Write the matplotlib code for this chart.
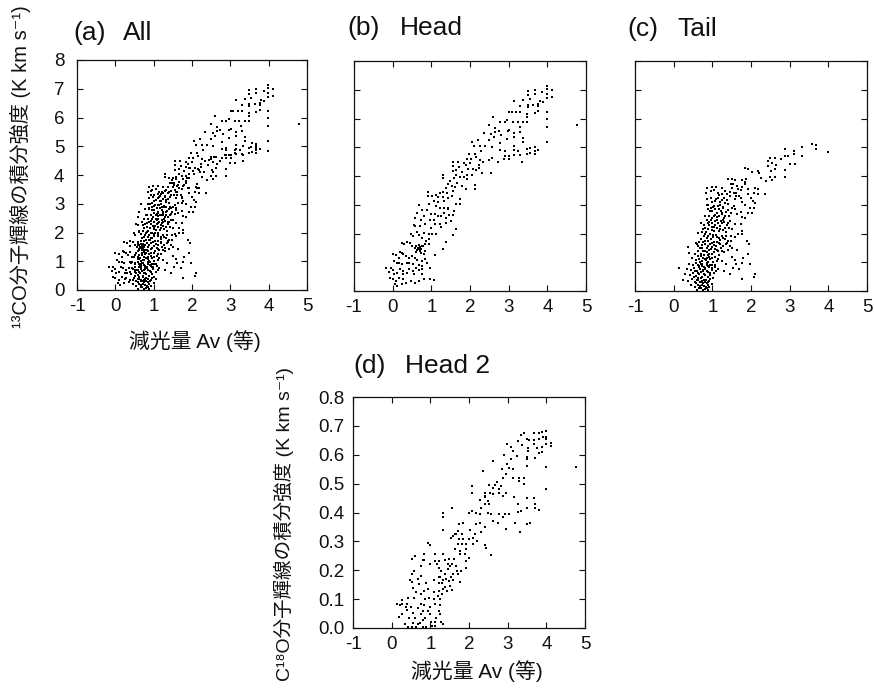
import numpy as np
import matplotlib
matplotlib.use("Agg")
import matplotlib.pyplot as plt
from matplotlib.ticker import FormatStrFormatter

plt.rcParams['font.family'] = ['Liberation Sans', 'Noto Sans CJK JP', 'DejaVu Sans']
plt.rcParams['axes.unicode_minus'] = False

# 13CO integrated intensity vs Av, head region (panel b)
head_pts = [
    (3.98, 7.13), (4.11, 6.99), (3.98, 7.01), (3.98, 6.85), (3.98, 6.71), (4.11, 6.76), (3.87, 6.93),
    (3.67, 7.00), (3.67, 6.85), (3.49, 6.96), (3.49, 6.81), (3.37, 6.66), (3.54, 6.69), (3.80, 6.62),
    (3.89, 6.56), (3.77, 6.52), (3.77, 6.42), (3.64, 6.47), (3.49, 6.48), (3.49, 6.41), (3.30, 6.45),
    (3.14, 6.61), (3.01, 6.21), (3.08, 6.23), (3.19, 6.23), (3.30, 6.23), (3.48, 6.14), (3.48, 6.05),
    (3.67, 6.18), (3.77, 6.25), (3.98, 6.24), (3.98, 6.00), (3.98, 5.72), (3.98, 5.19), (4.78, 5.79),
    (2.60, 6.05), (2.78, 5.87), (2.90, 5.87), (2.96, 5.94), (3.11, 5.88), (3.23, 5.88), (3.38, 5.88),
    (3.48, 5.89), (2.49, 5.79), (2.65, 5.67), (2.65, 5.52), (2.35, 5.51), (2.55, 5.47), (2.74, 5.57),
    (2.80, 5.43), (2.97, 5.57), (3.02, 5.59), (3.15, 5.50), (3.15, 5.35), (3.29, 5.70), (3.30, 5.54),
    (3.37, 5.31), (3.37, 5.19), (2.96, 5.29), (2.77, 5.15), (2.61, 5.36), (2.49, 5.24), (2.21, 5.24),
    (2.06, 5.18), (2.10, 5.04), (2.26, 5.03), (2.38, 5.04), (2.28, 4.87), (2.56, 5.02), (2.77, 4.92),
    (2.90, 4.87), (2.90, 4.70), (3.01, 4.70), (3.01, 4.60), (3.15, 5.04), (3.15, 4.89), (3.15, 4.73),
    (3.25, 4.88), (3.30, 4.73), (3.34, 4.50), (3.48, 4.93), (3.48, 4.75), (3.55, 4.97), (3.56, 4.79),
    (3.67, 5.01), (3.67, 4.87), (3.67, 4.78), (3.77, 4.89),
    (1.97, 4.77), (2.12, 4.75), (2.15, 4.67), (2.03, 4.58), (1.91, 4.58), (1.84, 4.44), (1.69, 4.49),
    (1.55, 4.48), (1.55, 4.34), (1.72, 4.30), (1.90, 4.37), (2.01, 4.45), (2.25, 4.56), (2.34, 4.48),
    (2.49, 4.57), (2.57, 4.61), (2.73, 4.49), (2.88, 4.60), (2.23, 4.37), (2.23, 4.27), (2.15, 4.22),
    (2.31, 4.10), (2.54, 4.12), (2.09, 4.26), (1.95, 4.24), (2.06, 4.03), (1.93, 4.03), (1.79, 4.13),
    (1.65, 4.20), (1.30, 4.05), (1.30, 3.92), (1.55, 4.17), (1.47, 3.83), (1.59, 3.92), (1.65, 4.02),
    (1.74, 3.97), (1.84, 3.97), (1.93, 3.88), (1.67, 3.77), (1.79, 3.65), (1.89, 3.54), (2.12, 3.69),
    (2.12, 3.56),
    (1.43, 3.71), (1.53, 3.64), (1.60, 3.62), (1.37, 3.58), (1.22, 3.42), (1.30, 3.43), (1.41, 3.40),
    (1.53, 3.30), (1.56, 3.47), (0.92, 3.43), (0.92, 3.30), (1.02, 3.30), (1.11, 3.33), (1.16, 3.27),
    (1.29, 3.27), (1.32, 3.14), (1.06, 3.13), (1.16, 3.08), (1.43, 3.23), (1.74, 3.21), (1.74, 3.04),
    (0.95, 3.01), (1.11, 2.94), (1.22, 2.90), (1.32, 2.90), (1.43, 2.90), (1.64, 3.01), (0.67, 2.98),
    (0.77, 2.82), (0.89, 2.82), (1.00, 2.67), (1.10, 2.69), (1.17, 2.60), (1.25, 2.60), (1.32, 2.72),
    (1.44, 2.84), (1.58, 2.79), (1.46, 2.64), (1.55, 2.64), (1.37, 2.55),
    (0.63, 2.72), (0.58, 2.55), (0.82, 2.61), (0.74, 2.48), (0.96, 2.48), (1.06, 2.46), (0.83, 2.34),
    (0.71, 2.27), (0.54, 2.30), (0.58, 2.26), (1.00, 2.20), (1.10, 2.34), (1.22, 2.34), (1.25, 2.23),
    (1.50, 2.43), (1.37, 2.36), (1.65, 2.17), (1.56, 1.95), (0.48, 1.98), (0.52, 1.92), (0.63, 2.06),
    (0.68, 1.95), (0.82, 2.02), (0.76, 1.86), (0.93, 1.97), (0.93, 1.80), (1.03, 1.97), (1.12, 1.97),
    (0.87, 1.74), (0.83, 1.65), (0.93, 1.65), (1.37, 1.70), (1.30, 1.47),
    (0.23, 1.68), (0.30, 1.63), (0.37, 1.70), (0.45, 1.67), (0.57, 1.51), (0.50, 1.55), (0.60, 1.55),
    (0.65, 1.50), (0.70, 1.52), (0.67, 1.45), (0.72, 1.45), (0.62, 1.42), (0.68, 1.60), (0.75, 1.58),
    (0.60, 1.35), (0.70, 1.38), (0.78, 1.57), (0.83, 1.39), (0.74, 1.31), (0.80, 1.28), (1.10, 1.26),
    (0.19, 1.37), (0.23, 1.31), (0.00, 1.28), (0.09, 1.25), (0.17, 1.16), (0.28, 1.28), (0.34, 1.22),
    (0.43, 1.16), (0.50, 1.22), (0.58, 1.16), (0.63, 1.07), (0.76, 1.04), (0.83, 1.12), (0.90, 0.99),
    (0.04, 1.04), (0.10, 0.99), (0.17, 0.96), (0.23, 0.93), (0.37, 0.96), (0.43, 0.99), (0.52, 0.95),
    (0.67, 0.90), (0.76, 0.87), (0.96, 0.79),
    (-0.16, 0.80), (-0.05, 0.80), (-0.09, 0.67), (0.00, 0.72), (0.03, 0.58), (0.10, 0.63), (0.19, 0.75),
    (0.28, 0.70), (0.26, 0.58), (0.37, 0.64), (0.43, 0.75), (0.52, 0.70), (0.54, 0.58), (0.61, 0.79),
    (0.68, 0.72), (0.77, 0.75), (0.76, 0.58), (-0.07, 0.46), (0.00, 0.41), (0.09, 0.35), (0.17, 0.46),
    (0.28, 0.41), (0.35, 0.29), (0.47, 0.35), (0.58, 0.29), (0.67, 0.35), (0.80, 0.41), (0.96, 0.41),
    (1.06, 0.38), (0.06, 0.23), (0.12, 0.17), (0.23, 0.26),
]

# 13CO integrated intensity vs Av, tail region (panel c)
tail_pts = [
    (3.57, 5.12), (3.67, 5.08), (3.67, 4.95), (3.98, 4.85), (3.32, 5.01), (3.11, 4.87), (3.11, 4.75),
    (3.32, 4.71), (2.88, 4.93), (2.78, 4.60), (2.87, 4.70), (2.96, 4.71), (3.00, 4.43), (3.13, 4.43),
    (2.89, 4.20), (2.89, 3.97), (2.62, 4.64), (2.50, 4.61), (2.45, 4.52), (2.54, 4.46), (2.43, 4.35),
    (2.65, 4.37), (2.63, 4.23), (2.52, 4.17), (2.50, 3.97), (2.63, 3.97), (2.54, 3.86), (2.39, 3.83),
    (2.37, 3.39),
    (1.84, 4.29), (1.93, 4.23), (2.02, 4.14), (2.17, 4.17), (2.21, 4.10), (2.26, 3.94), (2.19, 3.56),
    (2.10, 3.57), (2.07, 3.42), (2.19, 3.39), (1.93, 3.36), (2.00, 3.25), (2.06, 3.13),
    (1.41, 3.91), (1.50, 3.88), (1.58, 3.85), (1.54, 3.73), (1.77, 3.85), (1.84, 3.80), (1.88, 3.88),
    (1.84, 3.71), (1.77, 3.62), (1.74, 3.50), (1.91, 3.54), (1.63, 3.65), (1.67, 3.54), (1.50, 3.59),
    (1.57, 3.41), (1.48, 3.71),
    (0.87, 3.59), (0.99, 3.62), (1.10, 3.62), (0.84, 3.42), (0.96, 3.48), (1.25, 3.59), (1.32, 3.48),
    (1.15, 3.42), (1.25, 3.39), (1.37, 3.39), (1.45, 3.30), (1.60, 3.30), (1.58, 3.19), (1.74, 3.22),
    (1.77, 3.11), (1.84, 2.99), (1.97, 2.90), (1.91, 2.72), (2.02, 2.72), (2.10, 3.07), (2.09, 2.90),
    (0.97, 3.25), (1.06, 3.13), (0.87, 3.19), (0.90, 2.99), (1.15, 3.22), (1.25, 3.15), (1.32, 3.07),
    (1.41, 3.01), (1.50, 2.90), (1.58, 2.84), (1.63, 2.69), (1.74, 2.76), (1.76, 2.57), (1.84, 2.53),
    (1.74, 2.34), (1.58, 2.32), (1.77, 2.09), (1.76, 1.97), (1.89, 1.74), (1.95, 1.62), (1.93, 1.30),
    (1.97, 0.93), (2.10, 0.58), (2.07, 0.49), (1.76, 0.41), (1.80, 1.16), (1.77, 0.99), (1.54, 0.81),
    (1.58, 1.07), (1.50, 1.51), (1.63, 1.41), (1.37, 1.66), (1.48, 1.74), (1.58, 1.88), (1.67, 1.97),
    (0.88, 2.85), (0.95, 2.78), (1.02, 2.92), (1.08, 2.85), (1.15, 2.95), (1.22, 2.80), (1.28, 2.90),
    (1.12, 2.70), (1.05, 2.62), (0.98, 2.55), (1.18, 2.60), (1.25, 2.68), (1.35, 2.75), (1.42, 2.62),
    (1.30, 2.55), (0.85, 2.48), (0.92, 2.40), (1.00, 2.35), (1.08, 2.45), (1.15, 2.38), (1.22, 2.45),
    (1.30, 2.40), (1.38, 2.30), (1.45, 2.45), (0.78, 2.30), (0.82, 2.20), (0.90, 2.15), (0.98, 2.22),
    (1.05, 2.10), (1.12, 2.18), (1.20, 2.25), (1.28, 2.12), (1.35, 2.05), (1.42, 2.20), (1.50, 2.15),
    (0.72, 2.05), (0.80, 1.98), (0.88, 1.92), (0.95, 2.00), (1.02, 1.88), (1.10, 1.95), (1.18, 1.85),
    (1.25, 1.92), (1.32, 1.82), (1.40, 1.75), (1.48, 1.90), (0.70, 1.80), (0.75, 1.70), (0.82, 1.65),
    (0.90, 1.75), (0.98, 1.68), (1.05, 1.60), (1.12, 1.72), (1.20, 1.62), (1.28, 1.55), (1.35, 1.65),
    (1.45, 1.55), (0.62, 1.55), (0.68, 1.48), (0.75, 1.40), (0.85, 1.50), (0.92, 1.42), (1.00, 1.52),
    (1.08, 1.45), (1.15, 1.38), (1.22, 1.48), (1.30, 1.35), (1.40, 1.42),
    (0.55, 1.30), (0.62, 1.22), (0.70, 1.30), (0.78, 1.25), (0.85, 1.35), (0.92, 1.20), (1.00, 1.28),
    (1.08, 1.18), (1.18, 1.25), (0.48, 1.15), (0.58, 1.08), (0.65, 1.12), (0.72, 1.05), (0.80, 1.10),
    (0.88, 1.02), (0.95, 1.12), (1.02, 1.00), (1.12, 1.05), (0.40, 0.95), (0.50, 0.90), (0.58, 0.98),
    (0.65, 0.88), (0.72, 0.95), (0.78, 0.85), (0.85, 0.92), (0.92, 0.82), (1.00, 0.90), (1.08, 0.85),
    (1.15, 0.78), (0.35, 0.78), (0.45, 0.72), (0.52, 0.80), (0.60, 0.70), (0.68, 0.78), (0.75, 0.68),
    (0.82, 0.75), (0.90, 0.65), (0.98, 0.72), (1.05, 0.62), (0.30, 0.60), (0.42, 0.55), (0.50, 0.62),
    (0.58, 0.52), (0.65, 0.58), (0.72, 0.50), (0.80, 0.55), (0.88, 0.48), (0.95, 0.55), (1.02, 0.45),
    (0.25, 0.40), (0.38, 0.35), (0.48, 0.42), (0.55, 0.32), (0.62, 0.40), (0.70, 0.30), (0.78, 0.38),
    (0.85, 0.28), (0.92, 0.35), (1.00, 0.25), (0.45, 0.20), (0.55, 0.15), (0.62, 0.22), (0.70, 0.12),
    (0.78, 0.18), (0.85, 0.10), (0.92, 0.15), (0.60, 0.05), (0.75, 0.03), (0.88, 0.05),
    (0.15, 0.81), (0.39, 1.33), (0.37, 1.53), (0.60, 1.65), (0.58, 1.68), (0.63, 2.03), (0.70, 2.35),
    (0.80, 2.60), (0.85, 3.00), (1.50, 1.20), (1.60, 0.95), (1.70, 0.75), (1.45, 0.60), (1.35, 0.95),
    (1.30, 0.70), (1.25, 1.05),
    # dense core of the tail distribution
    (0.66, 0.10), (0.72, 0.22), (0.80, 0.08), (0.68, 0.33), (0.76, 0.27), (0.84, 0.40), (0.63, 0.45),
    (0.71, 0.44), (0.80, 0.30), (0.88, 0.20), (0.95, 0.42), (0.58, 0.28), (0.67, 0.18), (0.74, 0.36),
    (0.83, 0.15), (0.90, 0.30), (0.52, 0.50), (0.60, 0.38),
    (0.62, 0.62), (0.70, 0.66), (0.78, 0.60), (0.86, 0.70), (0.94, 0.64), (0.66, 0.82), (0.74, 0.88),
    (0.82, 0.80), (0.90, 0.86), (0.98, 0.80), (0.70, 0.95), (0.86, 0.97), (1.06, 0.92), (0.55, 0.68),
    (0.77, 0.72), (0.63, 0.92), (1.10, 0.70), (0.95, 0.92),
    (0.68, 1.02), (0.76, 1.16), (0.84, 1.08), (0.92, 1.30), (1.00, 1.15), (0.70, 1.22), (0.80, 1.40),
    (0.88, 1.24), (0.96, 1.45), (1.04, 1.35), (1.12, 1.42), (0.62, 1.38), (0.86, 1.16), (1.15, 1.12),
    (0.74, 1.48), (1.24, 1.38),
    (0.72, 1.60), (0.80, 1.75), (0.88, 1.58), (0.96, 1.82), (1.04, 1.70), (1.12, 1.88), (1.20, 1.76),
    (0.78, 1.90), (0.86, 1.84), (0.94, 1.62), (1.02, 1.95), (1.10, 1.58), (1.18, 1.66), (1.28, 1.84),
    (0.66, 1.70), (1.36, 1.92),
    (0.84, 2.05), (0.92, 2.28), (1.00, 2.12), (1.08, 2.30), (1.16, 2.08), (1.24, 2.36), (1.32, 2.18),
    (0.88, 2.38), (0.96, 2.46), (1.04, 2.22), (1.12, 2.48), (1.20, 2.14), (1.40, 2.35), (0.76, 2.15),
    (1.28, 2.48),
    (0.92, 2.62), (1.00, 2.78), (1.08, 2.66), (1.16, 2.84), (1.24, 2.72), (1.32, 2.62), (1.40, 2.82),
    (1.04, 2.95), (1.20, 2.98), (1.12, 2.58), (0.96, 2.90), (1.28, 2.92), (1.48, 2.70), (1.56, 2.95),
    (1.00, 3.10), (1.10, 3.20), (1.20, 3.08), (1.30, 3.25), (1.38, 3.15), (1.18, 3.35), (1.45, 3.45),
    (1.05, 3.50), (1.62, 3.42), (1.70, 3.30),
]

# C18O integrated intensity vs Av, head region (panel d)
head2_pts = [
    (4.00, 0.681), (3.90, 0.679), (3.68, 0.676), (3.81, 0.674), (3.41, 0.675), (3.34, 0.668),
    (3.50, 0.655), (3.54, 0.651), (3.26, 0.646), (3.37, 0.635), (3.68, 0.651), (3.81, 0.655),
    (3.92, 0.660), (4.00, 0.662), (4.00, 0.654), (4.12, 0.639), (4.12, 0.631), (4.00, 0.637),
    (3.90, 0.628), (3.68, 0.637), (3.77, 0.623), (3.52, 0.625), (3.52, 0.614), (3.50, 0.593),
    (3.50, 0.585), (3.71, 0.588), (3.81, 0.605), (3.90, 0.608), (4.00, 0.556), (4.00, 0.481),
    (4.78, 0.556), (3.15, 0.614), (3.24, 0.597), (3.08, 0.628), (2.97, 0.637), (2.91, 0.600),
    (3.09, 0.585), (2.97, 0.568), (3.04, 0.553), (2.86, 0.550), (3.15, 0.550), (3.50, 0.562),
    (2.63, 0.579), (2.37, 0.542), (2.96, 0.533), (2.87, 0.521), (3.15, 0.521), (3.30, 0.521),
    (3.41, 0.521), (3.30, 0.510), (3.41, 0.498), (2.73, 0.506), (2.67, 0.495), (2.52, 0.495),
    (2.83, 0.492), (2.78, 0.481), (2.78, 0.469), (2.87, 0.458), (2.61, 0.484), (2.54, 0.469),
    (2.41, 0.469), (2.41, 0.454), (2.50, 0.440), (2.52, 0.429), (2.63, 0.464), (2.96, 0.469),
    (3.17, 0.452), (3.28, 0.431), (3.26, 0.402), (3.35, 0.406), (3.50, 0.450), (3.68, 0.450),
    (3.70, 0.431), (3.50, 0.417), (3.70, 0.417), (3.80, 0.408), (3.50, 0.360), (3.58, 0.365),
    (3.32, 0.332), (3.19, 0.362), (2.96, 0.342), (2.93, 0.394), (3.03, 0.394), (2.87, 0.383),
    (2.08, 0.492), (2.08, 0.469), (2.41, 0.458), (2.28, 0.443), (2.41, 0.429), (2.32, 0.417),
    (2.17, 0.400), (2.28, 0.394), (1.99, 0.400), (2.09, 0.406), (2.49, 0.397), (2.58, 0.394),
    (2.78, 0.394), (2.63, 0.369), (2.76, 0.365), (2.41, 0.350), (2.28, 0.362), (2.19, 0.360),
    (2.02, 0.339), (2.30, 0.331), (2.15, 0.327), (2.10, 0.313), (2.00, 0.308), (2.21, 0.300),
    (2.10, 0.292), (1.91, 0.290), (1.91, 0.273), (2.42, 0.288), (2.45, 0.276), (2.57, 0.253),
    (1.56, 0.415), (1.32, 0.400), (1.32, 0.383), (1.32, 0.339), (1.58, 0.319), (1.54, 0.313),
    (1.63, 0.325), (1.67, 0.327), (1.74, 0.360), (1.84, 0.362), (1.72, 0.336), (1.83, 0.325),
    (1.74, 0.308), (1.84, 0.308), (1.83, 0.292), (1.71, 0.290), (1.63, 0.273), (1.76, 0.267),
    (1.77, 0.258), (1.90, 0.258), (2.00, 0.244), (1.91, 0.232), (1.91, 0.209), (1.80, 0.198),
    (1.77, 0.161), (1.71, 0.188), (1.58, 0.165), (1.54, 0.175), (1.45, 0.203), (1.50, 0.215),
    (1.45, 0.221), (1.37, 0.235), (1.48, 0.238), (1.61, 0.238), (1.56, 0.223), (1.67, 0.215),
    (1.69, 0.198), (1.58, 0.186), (1.32, 0.258), (1.23, 0.232), (1.12, 0.258), (1.13, 0.232),
    (0.93, 0.294), (0.99, 0.286), (0.84, 0.255), (0.83, 0.237), (0.99, 0.221), (1.17, 0.221),
    (1.22, 0.209), (1.28, 0.198), (1.25, 0.177), (1.37, 0.188), (1.34, 0.165), (1.22, 0.175),
    (1.10, 0.165), (1.22, 0.157), (1.30, 0.157), (1.48, 0.163), (1.50, 0.146), (1.56, 0.131),
    (1.43, 0.128), (1.32, 0.134), (1.30, 0.119), (1.23, 0.128), (1.10, 0.123), (1.19, 0.111),
    (1.25, 0.099), (1.10, 0.102), (1.13, 0.082), (1.25, 0.080), (1.22, 0.059), (1.25, 0.047),
    (1.15, 0.036), (1.13, 0.022), (1.13, 0.007), (1.02, 0.022), (1.04, 0.007), (1.34, 0.013),
    (1.28, 0.022), (0.99, 0.071), (0.99, 0.047), (0.93, 0.059), (0.87, 0.036), (0.80, 0.059),
    (0.82, 0.027), (0.76, 0.047), (0.73, 0.018), (0.87, 0.099), (0.84, 0.080), (0.76, 0.082),
    (0.67, 0.068), (0.76, 0.117), (0.84, 0.128), (0.97, 0.105), (0.93, 0.134), (0.71, 0.151),
    (0.90, 0.157), (0.52, 0.160), (0.54, 0.138), (0.63, 0.123), (0.58, 0.105), (0.76, 0.180),
    (0.67, 0.169), (0.58, 0.198), (0.52, 0.188), (0.48, 0.165), (0.61, 0.250), (0.52, 0.238),
    (0.80, 0.237), (0.76, 0.213), (0.37, 0.073), (0.39, 0.062), (0.50, 0.071), (0.54, 0.053),
    (0.45, 0.036), (0.54, 0.018), (0.35, 0.013), (0.61, 0.036), (0.67, 0.013), (0.63, 0.003),
    (0.43, 0.003), (0.52, 0.003), (0.82, 0.003), (0.89, 0.003), (0.15, 0.082), (0.26, 0.097),
    (0.22, 0.080), (0.28, 0.082), (0.39, 0.084), (0.19, 0.038), (0.26, 0.047), (0.43, 0.105),
    (1.39, 0.141), (1.41, 0.169),
]

head = np.array(head_pts)
tail = np.array(tail_pts)
head2 = np.array(head2_pts)
all_pts = np.vstack([head, tail])

W, H = 874, 690
fig = plt.figure(figsize=(W / 100, H / 100), dpi=100)
ink = '#111111'


def add_axes(left, top, width, height):
    return fig.add_axes([left / W, 1 - (top + height) / H, width / W, height / H])


def style(ax, ylim, yticks, show_y):
    ax.set_xlim(-1, 5)
    ax.set_ylim(*ylim)
    ax.set_xticks(np.arange(-1, 6, 1))
    ax.set_yticks(yticks)
    ax.tick_params(direction='in', length=4, width=0.8, top=True, right=True,
                   labelsize=13.5, colors=ink, pad=6)
    ax.tick_params(axis='y', pad=9)
    if not show_y:
        ax.set_yticklabels([])
    for s in ax.spines.values():
        s.set_linewidth(0.9)
        s.set_color(ink)


def dots(ax, pts):
    # small crisp square dots, about 2x2 px
    ax.plot(pts[:, 0], pts[:, 1], 's', ms=1.55, mew=0, color='black', antialiased=False)


ax_a = add_axes(77, 60, 230, 230)
ax_b = add_axes(354, 61, 232, 230)
ax_c = add_axes(635, 61, 232, 230)
ax_d = add_axes(353, 397, 232, 231)

dots(ax_a, all_pts)
dots(ax_b, head)
dots(ax_c, tail)
dots(ax_d, head2)

style(ax_a, (0, 8), np.arange(0, 9, 1), True)
style(ax_b, (0, 8), np.arange(0, 9, 1), False)
style(ax_c, (0, 8), np.arange(0, 9, 1), False)
style(ax_d, (0, 0.8), np.arange(0, 0.81, 0.1), True)
ax_d.yaxis.set_major_formatter(FormatStrFormatter('%.1f'))
ax_d.tick_params(axis='y', pad=6)

# panel titles: letter and name placed separately
titles = [('(a)', 'All', 73, 123, 40), ('(b)', 'Head', 347, 400, 35),
          ('(c)', 'Tail', 627, 677, 36), ('(d)', 'Head 2', 353, 405, 373)]
for tag, name, x1, x2, y in titles:
    fig.text(x1 / W, 1 - y / H, tag, fontsize=19, color=ink, ha='left', va='baseline')
    fig.text(x2 / W, 1 - y / H, name, fontsize=19, color=ink, ha='left', va='baseline')

# axis labels
xlab = '減光量 Av (等)'
fig.text(195 / W, 1 - 341 / H, xlab, fontsize=15, color=ink, ha='center', va='center')
fig.text(477 / W, 1 - 671 / H, xlab, fontsize=15, color=ink, ha='center', va='center')
fig.text(20 / W, 1 - 167 / H, '¹³CO分子輝線の積分強度 (K km s⁻¹)', fontsize=14.5, color=ink,
         rotation=90, ha='center', va='center')
fig.text(284 / W, 1 - 524 / H, 'C¹⁸O分子輝線の積分強度 (K km s⁻¹)', fontsize=14, color=ink,
         rotation=90, ha='center', va='center')

fig.savefig('out.png', dpi=100)
